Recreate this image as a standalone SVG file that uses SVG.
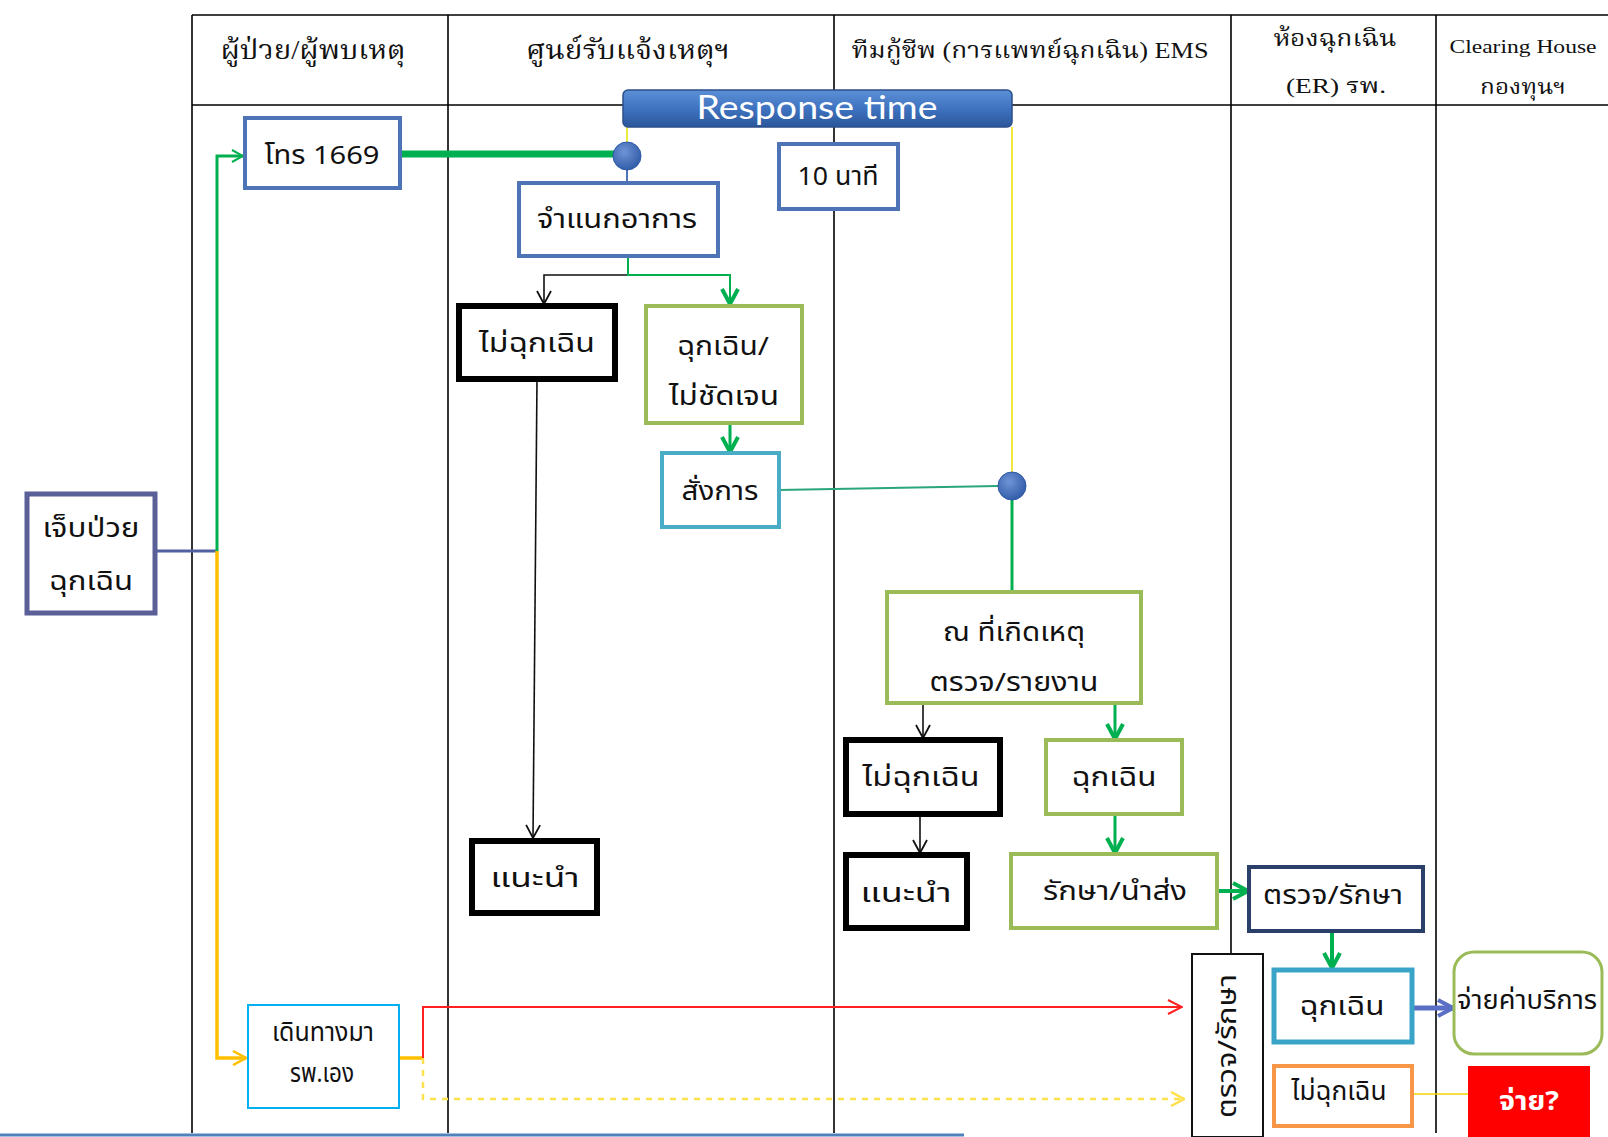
<svg xmlns="http://www.w3.org/2000/svg" width="1608" height="1137" viewBox="0 0 1608 1137">
<defs>
  <style>
    .lane{stroke:#000;stroke-width:1.6;fill:none}
    .hd{font-family:"Liberation Serif","Noto Serif Thai","Noto Sans Thai",serif;fill:#111;text-anchor:middle}
    .t{font-family:"Noto Sans Thai","Noto Sans","DejaVu Sans",sans-serif;fill:#111;text-anchor:middle;font-size:26px}
    .nb{fill:#fff;stroke:#4f74b5;stroke-width:4}
    .nk{fill:#fff;stroke:#000;stroke-width:6}
    .no{fill:#fff;stroke:#9bbb59;stroke-width:4}
    .nl{fill:#fff;stroke:#4bacc6;stroke-width:4}
    .cg{stroke:#00b050;fill:none}
    .ck{stroke:#111;stroke-width:1.6;fill:none}
  </style>
  <linearGradient id="gRT" x1="0" y1="0" x2="0" y2="1">
    <stop offset="0" stop-color="#5b8fd6"/>
    <stop offset="0.5" stop-color="#3f73c0"/>
    <stop offset="1" stop-color="#2b579a"/>
  </linearGradient>
  <radialGradient id="gDot" cx="0.4" cy="0.35" r="0.7">
    <stop offset="0" stop-color="#6f93d6"/>
    <stop offset="1" stop-color="#2e5aa6"/>
  </radialGradient>
  <marker id="aK" markerUnits="userSpaceOnUse" markerWidth="16" markerHeight="16" viewBox="0 0 16 16" refX="15" refY="8" orient="auto">
    <path d="M2,1 L15,8 L2,15" fill="none" stroke="#111" stroke-width="1.8"/>
  </marker>
  <marker id="aG" markerUnits="userSpaceOnUse" markerWidth="20" markerHeight="20" viewBox="0 0 20 20" refX="18" refY="10" orient="auto">
    <path d="M3,2 L18,10 L3,18" fill="none" stroke="#00b050" stroke-width="4"/>
  </marker>
  <marker id="aGs" markerUnits="userSpaceOnUse" markerWidth="14" markerHeight="14" viewBox="0 0 14 14" refX="13" refY="7" orient="auto">
    <path d="M2,1 L13,7 L2,13" fill="none" stroke="#00b050" stroke-width="2"/>
  </marker>
  <marker id="aR" markerUnits="userSpaceOnUse" markerWidth="18" markerHeight="18" viewBox="0 0 18 18" refX="17" refY="9" orient="auto">
    <path d="M3,2 L17,9 L3,16" fill="none" stroke="#ff2020" stroke-width="2"/>
  </marker>
  <marker id="aB" markerUnits="userSpaceOnUse" markerWidth="20" markerHeight="20" viewBox="0 0 20 20" refX="18" refY="10" orient="auto">
    <path d="M3,2 L18,10 L3,18" fill="none" stroke="#5b6ec6" stroke-width="4"/>
  </marker>
  <marker id="aY" markerUnits="userSpaceOnUse" markerWidth="16" markerHeight="16" viewBox="0 0 16 16" refX="15" refY="8" orient="auto">
    <path d="M2,1 L15,8 L2,15" fill="none" stroke="#ffc000" stroke-width="2.5"/>
  </marker>
  <marker id="aYd" markerUnits="userSpaceOnUse" markerWidth="16" markerHeight="16" viewBox="0 0 16 16" refX="15" refY="8" orient="auto">
    <path d="M2,1 L15,8 L2,15" fill="none" stroke="#ffe14d" stroke-width="2.5"/>
  </marker>
</defs>
<rect width="1608" height="1137" fill="#fff"/>

<g id="lanes">
  <line class="lane" x1="192" y1="15" x2="1608" y2="15"/>
  <line class="lane" x1="192" y1="105" x2="1608" y2="105"/>
  <line class="lane" x1="192" y1="15" x2="192" y2="1133"/>
  <line class="lane" x1="448" y1="15" x2="448" y2="1133"/>
  <line class="lane" x1="834" y1="15" x2="834" y2="1133"/>
  <line class="lane" x1="1231" y1="15" x2="1231" y2="1133"/>
  <line class="lane" x1="1436" y1="15" x2="1436" y2="1133"/>
  <line x1="0" y1="1135" x2="964" y2="1135" stroke="#4f81bd" stroke-width="3"/>
  <text class="hd" x="313" y="59" font-size="27" textLength="185" lengthAdjust="spacingAndGlyphs">ผู้ป่วย/ผู้พบเหตุ</text>
  <text class="hd" x="628" y="59" font-size="27" textLength="204" lengthAdjust="spacingAndGlyphs">ศูนย์รับแจ้งเหตุฯ</text>
  <text class="hd" x="1030" y="58" font-size="23" textLength="357" lengthAdjust="spacingAndGlyphs">ทีมกู้ชีพ (การแพทย์ฉุกเฉิน) EMS</text>
  <text class="hd" x="1335" y="46" font-size="23" textLength="123" lengthAdjust="spacingAndGlyphs">ห้องฉุกเฉิน</text>
  <text class="hd" x="1336" y="93" font-size="22" textLength="100" lengthAdjust="spacingAndGlyphs">(ER) รพ.</text>
  <text class="hd" x="1523" y="53" font-size="19" textLength="147" lengthAdjust="spacingAndGlyphs">Clearing House</text>
  <text class="hd" x="1523" y="94" font-size="21" textLength="86" lengthAdjust="spacingAndGlyphs">กองทุนฯ</text>
</g>

<g id="connectors">
  <!-- patient split -->
  <line x1="157" y1="551" x2="217" y2="551" stroke="#5060a0" stroke-width="3"/>
  <path d="M217,551 V156 H243" class="cg" stroke-width="3" marker-end="url(#aGs)"/>
  <path d="M217,551 V1058 H246" stroke="#ffc000" stroke-width="3.5" fill="none" marker-end="url(#aY)"/>
  <!-- call to dispatch -->
  <line x1="400" y1="154" x2="614" y2="154" class="cg" stroke-width="7"/>
  <line x1="627" y1="170" x2="627" y2="183" stroke="#4f74b5" stroke-width="2"/>
  <line x1="627" y1="127" x2="627" y2="142" stroke="#e6e600" stroke-width="1.5"/>
  <line x1="1012" y1="127" x2="1012" y2="472" stroke="#f0e000" stroke-width="1.5"/>
  <!-- classification split -->
  <path d="M628,256 V275 H544 V304" class="ck" marker-end="url(#aK)"/>
  <path d="M628,256 V275 H730 V304" class="cg" stroke-width="2" marker-end="url(#aG)"/>
  <line x1="730" y1="423" x2="730" y2="452" class="cg" stroke-width="3" marker-end="url(#aG)"/>
  <line x1="537" y1="379" x2="533" y2="838" class="ck" marker-end="url(#aK)"/>
  <!-- dispatch to EMS -->
  <line x1="779" y1="490" x2="998" y2="486" stroke="#2aa67a" stroke-width="2"/>
  <line x1="1012" y1="500" x2="1012" y2="592" class="cg" stroke-width="3"/>
  <!-- scene split -->
  <line x1="923" y1="703" x2="923" y2="738" class="ck" marker-end="url(#aK)"/>
  <line x1="1115" y1="703" x2="1115" y2="739" class="cg" stroke-width="3" marker-end="url(#aG)"/>
  <line x1="920" y1="814" x2="920" y2="853" class="ck" marker-end="url(#aK)"/>
  <line x1="1115" y1="814" x2="1115" y2="853" class="cg" stroke-width="3" marker-end="url(#aG)"/>
  <line x1="1217" y1="891" x2="1248" y2="891" class="cg" stroke-width="4" marker-end="url(#aG)"/>
  <line x1="1332" y1="931" x2="1332" y2="968" class="cg" stroke-width="4" marker-end="url(#aG)"/>
  <line x1="1412" y1="1008" x2="1453" y2="1008" stroke="#5b6ec6" stroke-width="5" marker-end="url(#aB)"/>
  <line x1="1412" y1="1094" x2="1468" y2="1094" stroke="#f2d600" stroke-width="1.5"/>
  <!-- walk-in -->
  <line x1="399" y1="1058" x2="423" y2="1058" stroke="#ffc000" stroke-width="3.5"/>
  <path d="M423,1058 V1007 H1182" stroke="#ff2020" stroke-width="2" fill="none" marker-end="url(#aR)"/>
  <path d="M423,1058 V1099 H1184" stroke="#ffe14d" stroke-width="2.5" stroke-dasharray="6,6" fill="none" marker-end="url(#aYd)"/>
</g>

<g id="response-time">
  <rect x="623" y="90" width="389" height="37" rx="5" fill="url(#gRT)" stroke="#2b4f8a" stroke-width="1.5"/>
  <text x="817" y="119" font-family="Lato,'Open Sans',sans-serif" font-size="32" fill="#fff" text-anchor="middle" textLength="241" lengthAdjust="spacingAndGlyphs">Response time</text>
</g>
<g id="dot1"><circle cx="627" cy="156" r="14" fill="url(#gDot)" stroke="#2e5aa6" stroke-width="1"/></g>
<g id="dot2"><circle cx="1012" cy="486" r="14" fill="url(#gDot)" stroke="#2e5aa6" stroke-width="1"/></g>

<g id="n-patient">
  <rect x="27" y="494" width="128" height="119" fill="#fff" stroke="#5b5f97" stroke-width="5"/>
  <text class="t" x="91" y="537" textLength="97" lengthAdjust="spacingAndGlyphs">เจ็บป่วย</text>
  <text class="t" x="91" y="590" textLength="84" lengthAdjust="spacingAndGlyphs">ฉุกเฉิน</text>
</g>
<g id="n-call">
  <rect class="nb" x="245" y="118" width="155" height="70"/>
  <text class="t" x="322" y="164" textLength="115" lengthAdjust="spacingAndGlyphs">โทร 1669</text>
</g>
<g id="n-10min">
  <rect class="nb" x="779" y="144" width="119" height="65" stroke-width="3.5"/>
  <text class="t" x="838" y="185" font-size="24" textLength="81" lengthAdjust="spacingAndGlyphs">10 นาที</text>
</g>
<g id="n-classify">
  <rect class="nb" x="519" y="183" width="199" height="73"/>
  <text class="t" x="617" y="228" textLength="160" lengthAdjust="spacingAndGlyphs">จำแนกอาการ</text>
</g>
<g id="n-nonemerg1">
  <rect class="nk" x="459" y="306" width="156" height="73"/>
  <text class="t" x="537" y="352" textLength="116" lengthAdjust="spacingAndGlyphs">ไม่ฉุกเฉิน</text>
</g>
<g id="n-unclear">
  <rect class="no" x="646" y="306" width="156" height="117"/>
  <text class="t" x="723" y="355" textLength="92" lengthAdjust="spacingAndGlyphs">ฉุกเฉิน/</text>
  <text class="t" x="724" y="405" textLength="110" lengthAdjust="spacingAndGlyphs">ไม่ชัดเจน</text>
</g>
<g id="n-command">
  <rect class="nl" x="662" y="453" width="117" height="74"/>
  <text class="t" x="720" y="500" textLength="77" lengthAdjust="spacingAndGlyphs">สั่งการ</text>
</g>
<g id="n-advice1">
  <rect class="nk" x="472" y="841" width="125" height="72"/>
  <text class="t" x="535" y="887" textLength="89" lengthAdjust="spacingAndGlyphs">แนะนำ</text>
</g>
<g id="n-scene">
  <rect class="no" x="887" y="592" width="254" height="111"/>
  <text class="t" x="1014" y="641" textLength="142" lengthAdjust="spacingAndGlyphs">ณ ที่เกิดเหตุ</text>
  <text class="t" x="1014" y="691" textLength="169" lengthAdjust="spacingAndGlyphs">ตรวจ/รายงาน</text>
</g>
<g id="n-nonemerg2">
  <rect class="nk" x="846" y="740" width="154" height="74"/>
  <text class="t" x="921" y="786" textLength="117" lengthAdjust="spacingAndGlyphs">ไม่ฉุกเฉิน</text>
</g>
<g id="n-emerg2">
  <rect class="no" x="1046" y="740" width="136" height="74"/>
  <text class="t" x="1114" y="786" textLength="85" lengthAdjust="spacingAndGlyphs">ฉุกเฉิน</text>
</g>
<g id="n-advice2">
  <rect class="nk" x="846" y="855" width="121" height="73"/>
  <text class="t" x="906" y="902" textLength="91" lengthAdjust="spacingAndGlyphs">แนะนำ</text>
</g>
<g id="n-treat">
  <rect class="no" x="1011" y="854" width="206" height="74"/>
  <text class="t" x="1115" y="900" textLength="144" lengthAdjust="spacingAndGlyphs">รักษา/นำส่ง</text>
</g>
<g id="n-er-treat">
  <rect x="1249" y="867" width="174" height="64" fill="#fff" stroke="#2a3f6a" stroke-width="4"/>
  <text class="t" x="1333" y="904" textLength="140" lengthAdjust="spacingAndGlyphs">ตรวจ/รักษา</text>
</g>
<g id="n-er-emerg">
  <rect x="1274" y="970" width="138" height="72" fill="#fff" stroke="#3aa3c8" stroke-width="5"/>
  <text class="t" x="1342" y="1015" textLength="85" lengthAdjust="spacingAndGlyphs">ฉุกเฉิน</text>
</g>
<g id="n-er-nonemerg">
  <rect x="1274" y="1066" width="138" height="60" fill="#fff" stroke="#f79646" stroke-width="4"/>
  <text class="t" x="1339" y="1100" font-size="22" textLength="95" lengthAdjust="spacingAndGlyphs">ไม่ฉุกเฉิน</text>
</g>
<g id="n-pay">
  <rect x="1454" y="952" width="148" height="102" rx="20" fill="#fff" stroke="#9bbb59" stroke-width="3"/>
  <text class="t" x="1527" y="1009" font-size="24" textLength="140" lengthAdjust="spacingAndGlyphs">จ่ายค่าบริการ</text>
</g>
<g id="n-pay-q">
  <rect x="1468" y="1066" width="122" height="71" fill="#ff0000"/>
  <text class="t" x="1529" y="1110" font-size="24" font-weight="bold" fill="#fff" style="fill:#fff" textLength="60" lengthAdjust="spacingAndGlyphs">จ่าย?</text>
</g>
<g id="n-walkin">
  <rect x="248" y="1005" width="151" height="103" fill="#fff" stroke="#00b0f0" stroke-width="2"/>
  <text class="t" x="323" y="1041" font-size="21" textLength="102" lengthAdjust="spacingAndGlyphs">เดินทางมา</text>
  <text class="t" x="322" y="1082" font-size="21" textLength="64" lengthAdjust="spacingAndGlyphs">รพ.เอง</text>
</g>
<g id="n-er-check">
  <rect x="1192" y="954" width="71" height="183" fill="#fff" stroke="#111" stroke-width="2"/>
  <text class="t" transform="translate(1236,1046) rotate(-90)" x="0" y="0" textLength="144" lengthAdjust="spacingAndGlyphs">ตรวจ/รักษา</text>
</g>
</svg>
